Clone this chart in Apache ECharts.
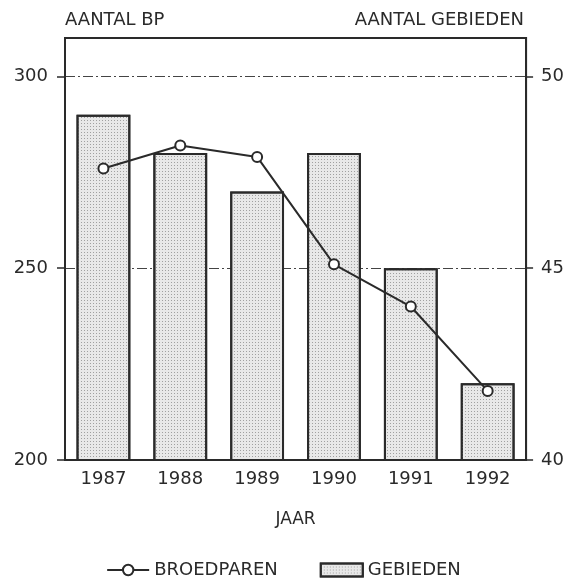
<!DOCTYPE html>
<html><head><meta charset="utf-8">
<script src="https://cdn.jsdelivr.net/npm/echarts@6/dist/echarts.min.js"></script>
<style>html,body{margin:0;padding:0;background:#fff}#c{width:567px;height:580px}</style>
</head><body><div id="c"></div>
<script>
var years = ['1987','1988','1989','1990','1991','1992'];
var broedparen = [276, 282, 279, 251, 240, 218];
var gebieden = [49, 48, 47, 48, 45, 42];
var leftTicks = [200, 250, 300];
var rightTicks = [40, 45, 50];

var FONT = 'DejaVu Sans';
var INK = '#2a2a2a';
var chart = echarts.init(document.getElementById('c'), null, {renderer:'canvas'});
chart.setOption({
  animation: false,
  backgroundColor: '#fff',
  textStyle: {fontFamily: FONT, color: INK},
  grid: {left: 65, right: 40, top: 38, bottom: 120, show: true, borderColor: INK, borderWidth: 2},
  legend: {
    top: 556, left: 'center', itemGap: 42, itemWidth: 42, itemHeight: 13,
    textStyle: {fontFamily: FONT, fontSize: 18, color: INK},
    data: [
      {name: 'BROEDPAREN'},
      {name: 'GEBIEDEN', icon: 'rect'}
    ]
  },
  xAxis: {
    type: 'category', data: years,
    name: 'JAAR', nameLocation: 'middle', nameGap: 51,
    nameTextStyle: {fontFamily: FONT, fontSize: 17, color: INK},
    axisLine: {lineStyle: {color: INK, width: 2}},
    axisTick: {alignWithLabel: true, length: 5, lineStyle: {color: INK, width: 1.5}},
    axisLabel: {fontFamily: FONT, fontSize: 18, color: INK, margin: 10}
  },
  yAxis: [
    {type: 'value', min: 200, max: 310, interval: 50, position: 'left',
     axisLine: {show: true, lineStyle: {color: INK, width: 2}},
     axisTick: {show: true, length: 8, customValues: leftTicks, lineStyle: {color: INK, width: 1.5}},
     axisLabel: {fontFamily: FONT, fontSize: 18, color: INK, margin: 17, customValues: leftTicks},
     splitLine: {show: true, lineStyle: {color: '#444', width: 1.2, type: [10, 3, 2, 3]}}
    },
    {type: 'value', min: 40, max: 51, interval: 5, position: 'right',
     axisLine: {show: true, lineStyle: {color: INK, width: 2}},
     axisTick: {show: true, length: 7, customValues: rightTicks, lineStyle: {color: INK, width: 1.5}},
     axisLabel: {fontFamily: FONT, fontSize: 18, color: INK, margin: 15, customValues: rightTicks},
     splitLine: {show: false}
    }
  ],
  series: [
    {name: 'GEBIEDEN', type: 'bar', yAxisIndex: 1, data: gebieden, barCategoryGap: '30%',
     itemStyle: {color: '#e8e8e8', borderColor: INK, borderWidth: 2,
       decal: {symbol: 'rect', symbolSize: 1, dashArrayX: [1, 2], dashArrayY: [1, 2], color: '#a0a0a0', rotation: 0}},
     z: 2},
    {name: 'BROEDPAREN', type: 'line', yAxisIndex: 0, data: broedparen,
     symbol: 'emptyCircle', symbolSize: 10,
     lineStyle: {color: INK, width: 2},
     itemStyle: {color: INK, borderColor: INK, borderWidth: 2},
     z: 5}
  ],
  graphic: [
    {type: 'text', left: 65, top: 11, style: {text: 'AANTAL BP', font: '18px "DejaVu Sans"', fill: INK}},
    {type: 'text', right: 43, top: 11, style: {text: 'AANTAL GEBIEDEN', font: '18px "DejaVu Sans"', fill: INK}}
  ]
});
</script></body></html>
